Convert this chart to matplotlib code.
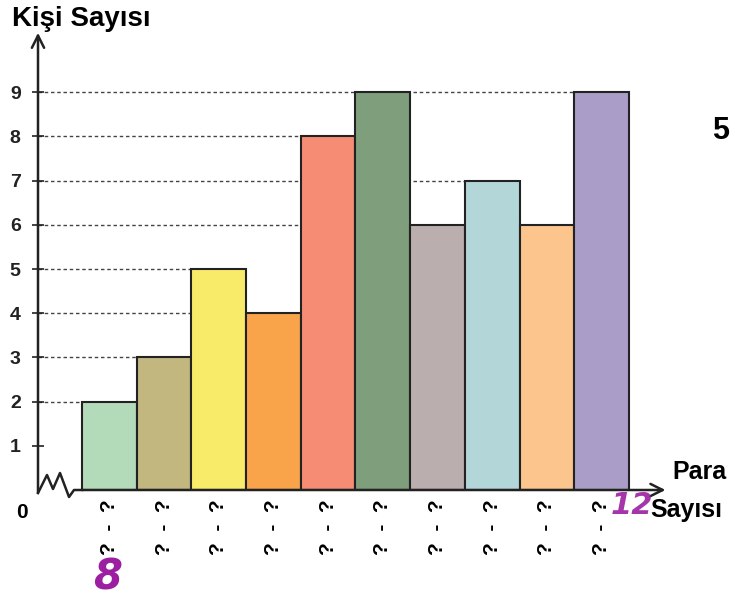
import numpy as np
import matplotlib.pyplot as plt

# datos
valores = [2, 3, 5, 4, 8, 9, 6, 7, 6, 9]
colores = ['#b3dbb9', '#c2b77e', '#f9eb6a', '#f9a44a', '#f68c74',
           '#7f9f7c', '#bbaeae', '#b3d6d8', '#fcc58d', '#aa9ec8']
etiquetas_x = ['?  -  ?'] * len(valores)
ticks_y = list(range(1, 10))

plt.rcParams['font.family'] = ['Liberation Sans', 'DejaVu Sans']
plt.rcParams['font.weight'] = 'bold'

W, H = 735, 610
fig = plt.figure(figsize=(W / 100, H / 100), dpi=100)

# ejes: de x=38px a 660px, de y=490px a 35px
ax = fig.add_axes([38 / W, (H - 490) / H, (660 - 38) / W, (490 - 35) / H])
xmin, xmax = -1.304, 10.067
ymax = (490 - 35) / 44.2
ax.set_xlim(xmin, xmax)
ax.set_ylim(0, ymax)
for s in ax.spines.values():
    s.set_visible(False)

def px(x, y):
    # pixel -> datos (solo para los adornos del eje)
    return xmin + (x - 38) / 54.7, (490 - y) / 44.2

pos = np.arange(len(valores))

# lineas punteadas hasta la barra mas a la derecha con ese valor
for v in sorted(set(valores)):
    ultimo = max(i for i, val in enumerate(valores) if val == v)
    ax.plot([xmin, ultimo + 0.5], [v, v], color='#444444', lw=1,
            ls=(0, (2.5, 2)), zorder=1)

ax.bar(pos, valores, width=1.0, color=colores, edgecolor='#222222',
       linewidth=1.5, zorder=2)

# eje y con flecha
ax.annotate('', xy=(xmin, ymax + 0.05), xytext=px(38, 493),
            arrowprops=dict(arrowstyle='->', lw=1.8, color='#222222',
                            mutation_scale=22, shrinkA=0, shrinkB=0),
            annotation_clip=False)
# eje x con flecha
ax.annotate('', xy=(xmax + 0.1, 0), xytext=(-0.5, 0),
            arrowprops=dict(arrowstyle='->', lw=1.8, color='#222222',
                            mutation_scale=22, shrinkA=0, shrinkB=0),
            annotation_clip=False)
# zigzag de corte
zig = [px(38, 493), px(47, 475), px(53, 489), px(60, 473), px(69, 497),
       px(74, 490), px(82, 490)]
ax.plot([p[0] for p in zig], [p[1] for p in zig], color='#222222', lw=1.8,
        clip_on=False, zorder=3)

ax.set_yticks(ticks_y)
ax.set_yticklabels([str(t) for t in ticks_y], fontsize=14, fontweight='bold')
ax.tick_params(axis='y', direction='inout', length=9, width=1.2,
               pad=8, colors='#222222')
ax.set_xticks(pos)
ax.set_xticklabels(etiquetas_x, rotation=90, fontsize=15, fontweight='bold',
                   va='top')
ax.tick_params(axis='x', length=0, pad=7)

fig.text(22 / W, 1 - 512 / H, '0', fontsize=15, fontweight='bold',
         ha='center', va='center')
fig.text(12 / W, 1 - 19 / H, 'Kişi Sayısı', fontsize=20, fontweight='bold',
         ha='left', va='center')
fig.text(672 / W, 1 - 472 / H, 'Para', fontsize=18, fontweight='bold',
         ha='left', va='center')
fig.text(650 / W, 1 - 510 / H, 'Sayısı', fontsize=18, fontweight='bold',
         ha='left', va='center')
fig.text(712 / W, 1 - 131 / H, '5', fontsize=22, fontweight='bold',
         ha='left', va='center')

# anotaciones a mano en morado
fig.text(108 / W, 1 - 578 / H, '8', fontsize=30, color='#9b1fa0',
         family='DejaVu Sans', fontstyle='italic', ha='center', va='center')
fig.text(632 / W, 1 - 505 / H, '12', fontsize=22, color='#9b1fa0',
         family='DejaVu Sans', fontstyle='italic', ha='center', va='center',
         alpha=0.9)

fig.savefig('out.png', dpi=100)
